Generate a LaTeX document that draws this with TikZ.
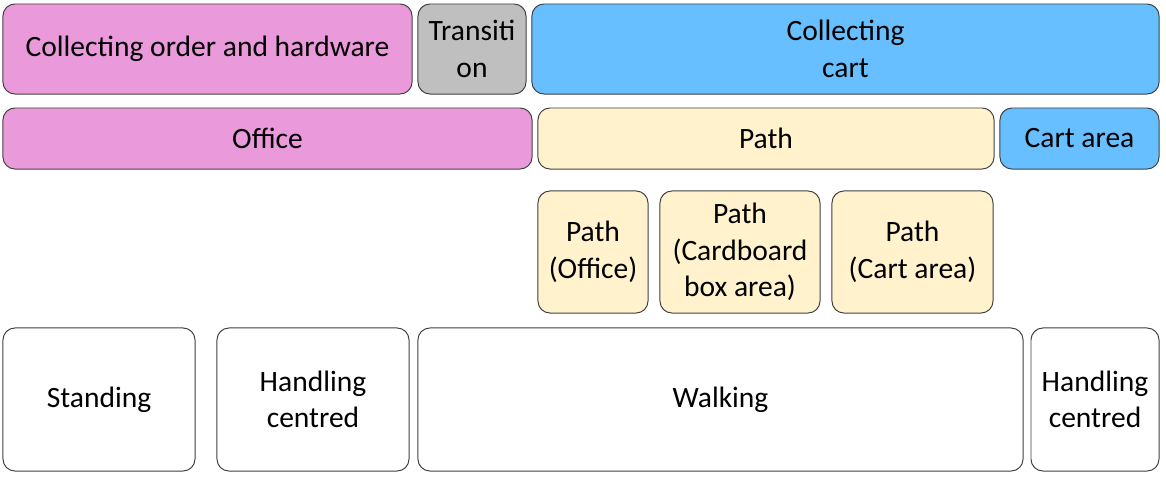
\documentclass[tikz,border=0pt]{standalone}
\usepackage{fontspec}
\setmainfont{Carlito}
\definecolor{blockpink}{RGB}{234,153,218}
\definecolor{blockgray}{RGB}{191,191,191}
\definecolor{blockblue}{RGB}{104,191,255}
\definecolor{blockcream}{RGB}{255,242,204}
\definecolor{blockline}{RGB}{64,64,64}
\tikzset{
  block/.style={
    rectangle,
    rounded corners=0.3cm,
    draw=blockline,
    line width=0.7pt,
    inner sep=0pt,
    outer sep=0pt,
    align=center,
    font=\fontsize{21}{26}\selectfont
  },
  block-pink/.style={block, fill=blockpink},
  block-gray/.style={block, fill=blockgray},
  block-blue/.style={block, fill=blockblue},
  block-cream/.style={block, fill=blockcream},
  block-white/.style={block, fill=white}
}

\begin{document}
\begin{tikzpicture}[x=0.025cm, y=-0.025cm]
  \useasboundingbox (0,0) rectangle (1166,476);

  % Row 1: activities
  \node[block-pink, minimum width=10.225cm, minimum height=2.25cm] (Order) at (207.5,49) {Collecting order and hardware};
  \node[block-gray, minimum width=2.7cm, minimum height=2.25cm] (Transition) at (472,49) {Transiti\\on};
  \node[block-blue, minimum width=15.675cm, minimum height=2.25cm] (Cart) at (845.5,49) {Collecting\\cart};

  % Row 2: locations
  \node[block-pink, minimum width=13.225cm, minimum height=1.525cm] (Office) at (267.5,138.5) {Office};
  \node[block-cream, minimum width=11.4cm, minimum height=1.525cm] (Path) at (766,138.5) {Path};
  \node[block-blue, minimum width=3.975cm, minimum height=1.525cm] (CartArea) at (1079.5,138.5) {Cart area};

  % Row 3: parts of the path
  \node[block-cream, minimum width=2.75cm, minimum height=3.05cm] (PathOffice) at (593,252) {Path\\(Office)};
  \node[block-cream, minimum width=4cm, minimum height=3.05cm] (PathBox) at (740,252) {Path\\(Cardboard\\box area)};
  \node[block-cream, minimum width=4.025cm, minimum height=3.05cm] (PathCart) at (912.5,252) {Path\\(Cart area)};

  % Row 4: postures
  \node[block-white, minimum width=4.8cm, minimum height=3.575cm] (Standing) at (99,399.5) {Standing};
  \node[block-white, minimum width=4.8cm, minimum height=3.575cm] (HandlingA) at (313,399.5) {Handling\\centred};
  \node[block-white, minimum width=15.125cm, minimum height=3.575cm] (Walking) at (720.5,399.5) {Walking};
  \node[block-white, minimum width=3.2cm, minimum height=3.575cm] (HandlingB) at (1095,399.5) {Handling\\centred};

\end{tikzpicture}
\end{document}
